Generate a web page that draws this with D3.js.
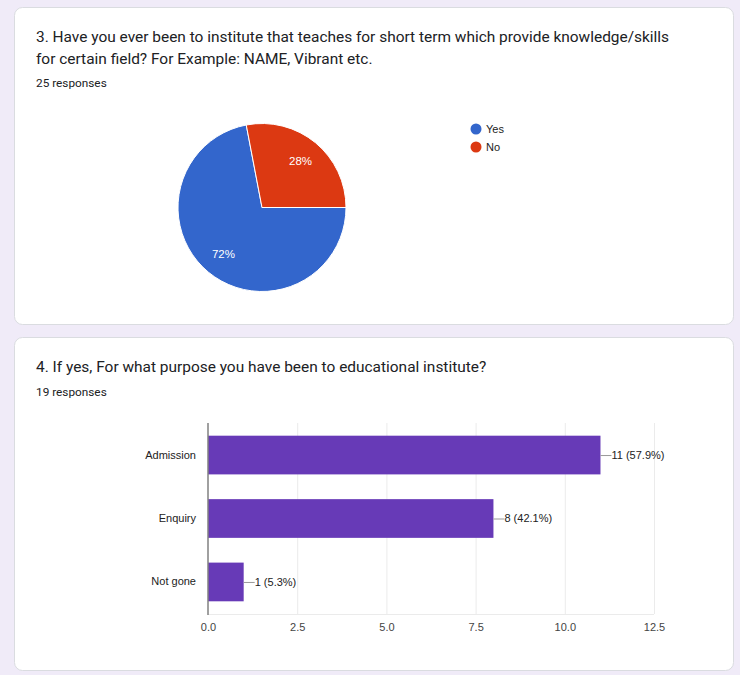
<!DOCTYPE html>
<html><head><meta charset="utf-8">
<script src="https://cdn.jsdelivr.net/npm/d3@7/dist/d3.min.js"></script>
<style>
html,body{margin:0;padding:0;background:#f0ebf8;}
svg{display:block;}
</style></head>
<body>
<svg id="c" width="740" height="675"></svg>
<script>
// ---- data ----
const q1Title = ["3. Have you ever been to institute that teaches for short term which provide knowledge/skills",
                 "for certain field? For Example: NAME, Vibrant etc."];
const q1Responses = "25 responses";
const pieLabels = ["Yes", "No"];
const pieValues = [18, 7];
const pieColors = ["#3366cc", "#dc3912"];

const q2Title = "4. If yes, For what purpose you have been to educational institute?";
const q2Responses = "19 responses";
const barCategories = ["Admission", "Enquiry", "Not gone"];
const barValues = [11, 8, 1];
const barLabels = ["11 (57.9%)", "8 (42.1%)", "1 (5.3%)"];
const xTicks = [0, 2.5, 5, 7.5, 10, 12.5];

const svg = d3.select("#c");

// cards
[[14, 7, 719, 317], [14, 337, 719, 333]].forEach(([x, y, w, h]) => {
  svg.append("rect").attr("x", x + 0.5).attr("y", y + 0.5).attr("width", w).attr("height", h)
    .attr("rx", 8).attr("fill", "#fff").attr("stroke", "#dadce0");
});

const titleFont = "Roboto, Arial, sans-serif";
const chartFont = "Arial, 'Liberation Sans', sans-serif";

// ---- Card 1 ----
q1Title.forEach((t, i) => {
  svg.append("text").attr("x", 36).attr("y", 42 + i * 22).text(t)
    .attr("font-family", titleFont).attr("font-size", 15.45).attr("fill", "#202124");
});
svg.append("text").attr("x", 36).attr("y", 87).text(q1Responses)
  .attr("font-family", titleFont).attr("font-size", 11.8).attr("fill", "#202124");

const cx = 262, cy = 207.5, r = 84;
const pie = d3.pie().sort(null).startAngle(Math.PI / 2).endAngle(Math.PI / 2 + 2 * Math.PI);
const arcs = pie(pieValues);
const arc = d3.arc().innerRadius(0).outerRadius(r);
const labelArc = d3.arc().innerRadius(r * 0.72).outerRadius(r * 0.72);
const pg = svg.append("g").attr("transform", `translate(${cx},${cy})`);
pg.selectAll("path").data(arcs).enter().append("path")
  .attr("d", arc).attr("fill", (d, i) => pieColors[i]).attr("stroke", "#fff").attr("stroke-width", 1);
const total = d3.sum(pieValues);
pg.selectAll("text").data(arcs).enter().append("text")
  .attr("transform", d => `translate(${labelArc.centroid(d)})`)
  .attr("text-anchor", "middle").attr("dy", "0.35em")
  .attr("font-family", chartFont).attr("font-size", 11.5).attr("fill", "#fff")
  .text(d => Math.round(d.value / total * 100) + "%");

// legend
const lg = svg.append("g").attr("transform", "translate(476,129)");
pieLabels.forEach((l, i) => {
  lg.append("circle").attr("cx", 0).attr("cy", i * 18).attr("r", 5.5).attr("fill", pieColors[i]);
  lg.append("text").attr("x", 10).attr("y", i * 18).attr("dy", "0.35em").text(l)
    .attr("font-family", chartFont).attr("font-size", 11).attr("fill", "#222");
});

// ---- Card 2 ----
svg.append("text").attr("x", 36).attr("y", 372).text(q2Title)
  .attr("font-family", titleFont).attr("font-size", 15.45).attr("fill", "#202124");
svg.append("text").attr("x", 36).attr("y", 396).text(q2Responses)
  .attr("font-family", titleFont).attr("font-size", 11.8).attr("fill", "#202124");

const x = d3.scaleLinear().domain([0, 12.5]).range([208, 654]);
const y = d3.scaleBand().domain(barCategories).range([423, 614]).paddingInner(0.39).paddingOuter(0.2);

const bg = svg.append("g");
// gridlines
bg.selectAll("line.grid").data(xTicks.slice(1)).enter().append("line")
  .attr("x1", d => x(d) + 0.5).attr("x2", d => x(d) + 0.5).attr("y1", 423).attr("y2", 614)
  .attr("stroke", "#ebebeb").attr("stroke-width", 1);
// bottom light line
bg.append("line").attr("x1", 208).attr("x2", 654).attr("y1", 614.5).attr("y2", 614.5).attr("stroke", "#ebebeb");

// bars
bg.selectAll("rect.bar").data(barValues).enter().append("rect")
  .attr("x", x(0)).attr("y", (d, i) => y(barCategories[i]))
  .attr("width", d => x(d) - x(0)).attr("height", y.bandwidth()).attr("fill", "#673ab7");

// axis line
bg.append("line").attr("x1", 208).attr("x2", 208).attr("y1", 423).attr("y2", 615)
  .attr("stroke", "#808080").attr("stroke-width", 1.5);

// x tick labels via axis
const xAxis = d3.axisBottom(x).tickValues(xTicks).tickFormat(d3.format(".1f")).tickSize(0).tickPadding(9);
const xa = bg.append("g").attr("transform", "translate(0,614)").call(xAxis);
xa.select(".domain").remove();
xa.selectAll("text").attr("font-family", chartFont).attr("font-size", 11).attr("fill", "#444");

// y labels via axis
const yAxis = d3.axisLeft(y).tickSize(0).tickPadding(12);
const ya = bg.append("g").attr("transform", "translate(208,0)").call(yAxis);
ya.select(".domain").remove();
ya.selectAll("text").attr("font-family", chartFont).attr("font-size", 11).attr("fill", "#222");

// value labels
barValues.forEach((v, i) => {
  const yy = y(barCategories[i]) + y.bandwidth() / 2;
  bg.append("line").attr("x1", x(v)).attr("x2", x(v) + 11).attr("y1", yy + 0.5).attr("y2", yy + 0.5)
    .attr("stroke", "#999").attr("stroke-width", 1);
  bg.append("text").attr("x", x(v) + 11).attr("y", yy).attr("dy", "0.35em").text(barLabels[i])
    .attr("font-family", chartFont).attr("font-size", 11).attr("fill", "#222");
});
</script>
</body></html>
